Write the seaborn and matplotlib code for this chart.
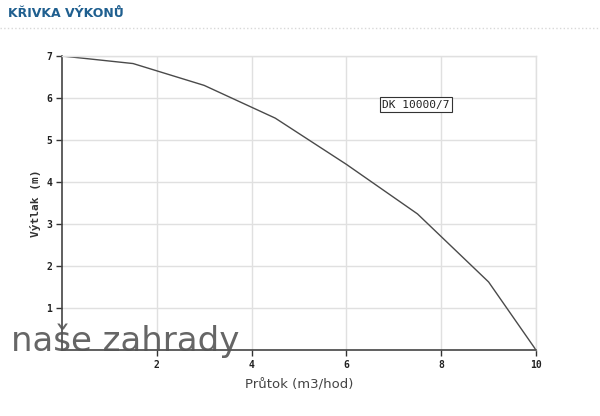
"""
Pump performance curve (KŘIVKA VÝKONŮ) for DK 10000/7
"""

import pandas as pd
import matplotlib.pyplot as plt
import seaborn as sns

# Curve
flow = [0, 1.5, 3, 4.5, 6, 7.5, 9, 10]          # Průtok (m3/hod)
head = [7, 6.82, 6.3, 5.52, 4.42, 3.24, 1.62, 0]  # Výtlak (m)
x_ticks = [2, 4, 6, 8, 10]
y_ticks = [1, 2, 3, 4, 5, 6, 7]
model = 'DK 10000/7'

df = pd.DataFrame({'flow': flow, 'head': head})

sns.set_style("white")

fig = plt.figure(figsize=(6, 4.16), dpi=100)
ax = fig.add_axes([0.1033, 0.1587, 0.79, 0.7067])

sns.lineplot(data=df, x='flow', y='head', ax=ax, color='#4a4a4a', linewidth=1.0)

ax.set_xlim(0, 10)
ax.set_ylim(0, 7)
ax.set_xticks(x_ticks)
ax.set_yticks(y_ticks)
ax.set_xticklabels([str(t) for t in x_ticks], fontsize=7, fontweight='bold',
                   family='DejaVu Sans Mono', color='#222222')
ax.set_yticklabels([str(t) for t in y_ticks], fontsize=7, fontweight='bold',
                   family='DejaVu Sans Mono', color='#222222')
ax.tick_params(axis='both', direction='out', length=4, width=1, color='#333333', pad=3,
               bottom=True, left=True)

# grid and frame
ax.grid(True, color='#e0e0e0', linewidth=1.0)
for side in ['top', 'right']:
    ax.spines[side].set_color('#e0e0e0')
    ax.spines[side].set_linewidth(1.0)
for side in ['left', 'bottom']:
    ax.spines[side].set_color('#444444')
    ax.spines[side].set_linewidth(1.2)

ax.set_xlabel('Průtok (m3/hod)', fontsize=9.5, color='#444444', labelpad=6)
ax.set_ylabel('Výtlak (m)', fontsize=8, fontweight='bold', family='DejaVu Sans Mono',
              color='#333333', labelpad=4)

# model label box
ax.text(0.675, 0.835, model, transform=ax.transAxes, fontsize=8, family='DejaVu Sans Mono',
        color='#222222', ha='left', va='center',
        bbox=dict(boxstyle='square,pad=0.2', facecolor='white', edgecolor='#333333', linewidth=0.8))

# page title and dotted rule
fig.text(0.013, 0.968, 'KŘIVKA VÝKONŮ', fontsize=9, fontweight='bold', color='#1f5f8f',
         ha='left', va='center')
fig.add_artist(plt.Line2D([0.0, 1.0], [0.933, 0.933], transform=fig.transFigure,
                          color='#d8d8d8', linewidth=1, linestyle=':'))

# watermark
fig.text(0.018, 0.18, 'naše zahrady', fontsize=24.5, color='#555555', alpha=0.9,
         ha='left', va='center', family='DejaVu Sans')

plt.savefig('out.png', dpi=100)
